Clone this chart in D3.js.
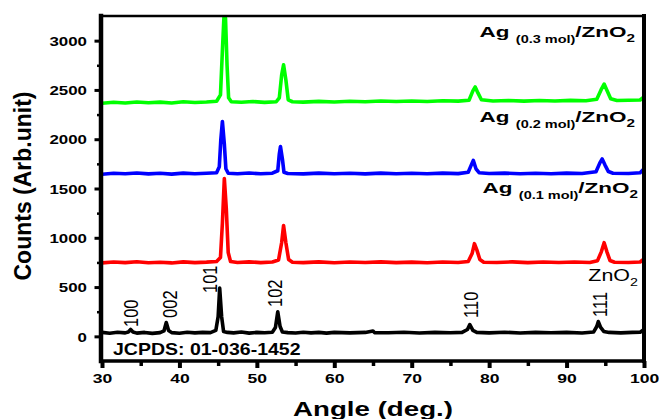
<!DOCTYPE html>
<html>
<head>
<meta charset="utf-8">
<script src="https://cdn.jsdelivr.net/npm/d3@7"></script>
<style>
  html, body { margin: 0; padding: 0; background: #fff; }
  svg { display: block; font-family: "Liberation Sans", Arial, sans-serif; }
  .trace { fill: none; stroke-width: 3.6; stroke-linejoin: round; stroke-linecap: round; }
</style>
</head>
<body>
<div id="chart"></div>
<script>
const ctx = {
    W: 659,
    H: 419,
    LEFT: 102,
    RIGHT: 644,
    TOP: 16,
    BOTTOM: 361,
};

// x axis ticks (2theta, deg) and y axis ticks (counts)
const xTicks = [30, 40, 50, 60, 70, 80, 90, 100];
const xMinorTicks = [35, 45, 55, 65, 75, 85, 95];
const yTicks = [0, 500, 1000, 1500, 2000, 2500, 3000];
const yMinorTicks = [250, 750, 1250, 1750, 2250, 2750];

// XRD patterns, [angle, counts]
const znO2 = [[30,40],[31,32],[32,42],[33,35],[33.4,45],[33.7,70],[34,45],[34.5,33],[35.5,40],[36.5,30],[37.5,38],
    [38,55],[38.3,140],[38.6,60],[39,38],[40,32],[41,42],[42,35],[43,40],[44,38],[44.7,60],[45.0,200],[45.2,490],
    [45.45,200],[45.7,50],[46.2,40],[47,35],[48,44],[49,33],[50,40],[51,36],[52,42],[52.4,90],[52.7,250],[53,100],
    [53.3,45],[54,38],[55,34],[56,42],[57,35],[58,40],[59,33],[60,40],[62,35],[64,40],[65,55],[65.2,38],[67,36],
    [69,42],[71,34],[73,40],[75,36],[76.5,40],[77.2,70],[77.5,120],[77.9,60],[78.4,40],[80,35],[82,42],[84,34],
    [86,40],[88,36],[90,40],[92,34],[93.5,45],[93.9,100],[94.1,150],[94.4,90],[94.8,50],[95.5,40],[97,35],
    [98.5,40],[99.5,42],[100,70]];

const ag01 = [[30,745],[31.5,755],[33,748],[34.5,757],[36,746],[37.5,752],[39,745],[40.5,756],[42,748],[43.5,753],
    [44.8,760],[45.3,800],[45.55,1150],[45.8,1600],[46.05,1300],[46.3,850],[46.6,760],[47.5,750],[49,756],
    [50.5,748],[52,754],[52.8,775],[53.2,950],[53.45,1125],[53.75,950],[54.1,780],[54.6,752],[56,748],[58,756],
    [60,747],[62,754],[64,749],[66,756],[68,748],[70,753],[72,747],[74,755],[76,749],[77.3,760],[77.8,840],
    [78.1,940],[78.4,880],[78.8,780],[79.3,752],[81,750],[83,756],[85,748],[87,754],[89,749],[91,755],[93,750],
    [94,768],[94.5,860],[94.85,950],[95.2,860],[95.6,770],[96.2,752],[98,750],[99.5,754],[100,785]];

const ag02 = [[30,1645],[31.5,1655],[33,1650],[34.5,1658],[36,1648],[37.5,1654],[39,1646],[40.5,1656],[42,1650],
    [43.5,1655],[44.8,1660],[45.15,1720],[45.35,2000],[45.55,2180],[45.8,1950],[46.0,1700],[46.3,1655],[47.5,1650],
    [49,1657],[50.5,1649],[52,1655],[52.7,1680],[52.9,1850],[53.05,1925],[53.3,1800],[53.5,1665],[54,1652],
    [56,1648],[58,1656],[60,1650],[62,1655],[64,1648],[66,1656],[68,1650],[70,1655],[72,1649],[74,1656],
    [76,1651],[77.3,1665],[77.7,1740],[77.95,1785],[78.3,1700],[78.7,1660],[80,1652],[82,1656],[84,1650],
    [86,1655],[88,1649],[90,1656],[92,1652],[93.8,1670],[94.3,1760],[94.6,1800],[94.95,1740],[95.4,1672],
    [96,1655],[98,1652],[99.5,1660],[100,1700]];

const ag03 = [[30,2365],[31.5,2375],[33,2368],[34.5,2378],[36,2370],[37.5,2376],[39,2368],[40.5,2380],[42,2372],
    [43.5,2377],[44.8,2385],[45.3,2450],[45.55,2900],[45.75,3240],[45.95,3230],[46.15,2750],[46.35,2420],
    [46.7,2380],[48,2375],[49.5,2382],[51,2374],[52.5,2380],[52.9,2420],[53.2,2650],[53.45,2755],[53.75,2600],
    [54.05,2400],[54.6,2380],[56,2376],[58,2384],[60,2378],[62,2385],[64,2380],[66,2388],[68,2382],[70,2388],
    [72,2383],[74,2390],[76,2386],[77.4,2395],[77.9,2490],[78.2,2530],[78.55,2470],[79,2400],[80.5,2388],
    [82.5,2392],[84.5,2386],[86.5,2393],[88.5,2388],[90.5,2394],[92.5,2390],[93.9,2405],[94.45,2500],
    [94.85,2560],[95.25,2490],[95.7,2410],[96.5,2392],[98,2395],[99.5,2398],[100,2430]];

const seriesData = [znO2, ag01, ag02, ag03];
const seriesColors = ["#000000", "#ff0000", "#0000ff", "#00ff00"];

// hkl reflections of ZnO2 (JCPDS 01-036-1452): label, angle, count where label starts
const hklLabels = ["100", "002", "101", "102", "110", "111"];
const hklAngles = [33.75, 38.8, 43.95, 52.35, 77.65, 94.3];
const hklCounts = [95, 187, 440, 298, 187, 197];

// sample labels: mol fraction text, count of the label baseline
const sampleMol = ["(0.3 mol)", "(0.2 mol)", "(0.1 mol)"];
const sampleCounts = [3040, 2170, 1450];

function stretched(sel, x, y, sx){
    sel.attr("transform", "translate(" + x + "," + y + ") scale(" + sx + ",1)");
}

function makeChart(){
    let svg = d3.select("#chart").append("svg")
                .attr("width", ctx.W)
                .attr("height", ctx.H);

    ctx.x = d3.scaleLinear().domain([30, 100]).range([ctx.LEFT, ctx.RIGHT]);
    ctx.y = d3.scaleLinear().domain([-250, 3250]).range([ctx.BOTTOM, ctx.TOP]);

    svg.append("clipPath").attr("id", "plotClip")
       .append("rect")
       .attr("x", ctx.LEFT).attr("y", ctx.TOP)
       .attr("width", ctx.RIGHT - ctx.LEFT).attr("height", ctx.BOTTOM - ctx.TOP);

    // traces
    let line = d3.line()
                 .x(d => ctx.x(d[0]))
                 .y(d => ctx.y(d[1]));
    svg.append("g")
       .attr("clip-path", "url(#plotClip)")
       .selectAll("path")
       .data(seriesData)
       .enter()
       .append("path")
       .attr("class", "trace")
       .attr("stroke", (d, i) => seriesColors[i])
       .attr("d", line);

    // x axis ticks
    let xAxis = svg.append("g")
                   .attr("transform", "translate(0," + ctx.BOTTOM + ")")
                   .call(d3.axisBottom(ctx.x).tickValues(xTicks).tickSize(7).tickPadding(0));
    xAxis.select(".domain").remove();
    xAxis.selectAll("line").attr("stroke", "#000").attr("stroke-width", 4);
    xAxis.selectAll("text")
         .attr("y", null).attr("dy", null)
         .attr("fill", "#000")
         .style("font-size", "13.5px").style("font-weight", "bold")
         .each(function(){ stretched(d3.select(this), 0, 22, 1.3); });

    let xMinor = svg.append("g")
                    .attr("transform", "translate(0," + ctx.BOTTOM + ")")
                    .call(d3.axisBottom(ctx.x).tickValues(xMinorTicks).tickSize(5).tickFormat(""));
    xMinor.select(".domain").remove();
    xMinor.selectAll("line").attr("stroke", "#000").attr("stroke-width", 3.5);

    // y axis ticks
    let yAxis = svg.append("g")
                   .attr("transform", "translate(" + (ctx.LEFT - 1) + ",0)")
                   .call(d3.axisLeft(ctx.y).tickValues(yTicks).tickFormat(d3.format("d")).tickSize(6.5));
    yAxis.select(".domain").remove();
    yAxis.selectAll("line").attr("stroke", "#000").attr("stroke-width", 3);
    yAxis.selectAll("text")
         .attr("x", null).attr("dy", "0.36em")
         .attr("fill", "#000")
         .style("font-size", "13px").style("font-weight", "bold")
         .each(function(){ stretched(d3.select(this), -14, 0, 1.3); });

    let yMinor = svg.append("g")
                    .attr("transform", "translate(" + (ctx.LEFT - 1) + ",0)")
                    .call(d3.axisLeft(ctx.y).tickValues(yMinorTicks).tickSize(4).tickFormat(""));
    yMinor.select(".domain").remove();
    yMinor.selectAll("line").attr("stroke", "#000").attr("stroke-width", 2.5);

    // frame
    let frame = svg.append("g").attr("stroke", "#000").attr("stroke-linecap", "square");
    frame.append("line").attr("x1", ctx.LEFT - 1).attr("x2", ctx.LEFT - 1)
         .attr("y1", ctx.TOP).attr("y2", ctx.BOTTOM).attr("stroke-width", 4.5);
    frame.append("line").attr("x1", ctx.RIGHT).attr("x2", ctx.RIGHT)
         .attr("y1", ctx.TOP).attr("y2", ctx.BOTTOM).attr("stroke-width", 4);
    frame.append("line").attr("x1", ctx.LEFT - 1).attr("x2", ctx.RIGHT)
         .attr("y1", ctx.TOP).attr("y2", ctx.TOP).attr("stroke-width", 2.5);
    frame.append("line").attr("x1", ctx.LEFT - 1).attr("x2", ctx.RIGHT)
         .attr("y1", ctx.BOTTOM).attr("y2", ctx.BOTTOM).attr("stroke-width", 3.5);

    // axis titles
    svg.append("text")
       .attr("text-anchor", "middle")
       .style("font-size", "19.5px").style("font-weight", "bold")
       .text("Angle (deg.)")
       .call(stretched, 373, 416, 1.42);

    svg.append("text")
       .attr("text-anchor", "middle")
       .attr("transform", "translate(31,186) rotate(-90)")
       .style("font-size", "23px").style("font-weight", "bold")
       .text("Counts (Arb.unit)");

    // sample labels
    let labelRight = [635, 635, 638];
    sampleMol.forEach(function(mol, i){
        let t = svg.append("text")
                   .attr("text-anchor", "end")
                   .style("font-weight", "bold")
                   .call(stretched, labelRight[i], ctx.y(sampleCounts[i]), 1.45);
        t.append("tspan").style("font-size", "15.5px").text("Ag ");
        t.append("tspan").style("font-size", "10px").attr("dy", 6).text(mol);
        t.append("tspan").style("font-size", "15.5px").attr("dy", -6).text("/ZnO");
        t.append("tspan").style("font-size", "10.5px").attr("dy", 5).text("2");
    });

    let zn = svg.append("text")
                .attr("text-anchor", "end")
                .call(stretched, 638, 281, 1.3);
    zn.append("tspan").style("font-size", "16.5px").text("ZnO");
    zn.append("tspan").style("font-size", "11px").attr("dy", 5).text("2");

    // hkl labels, rotated
    svg.append("g")
       .selectAll("text")
       .data(hklLabels)
       .enter()
       .append("text")
       .style("font-size", "16.5px")
       .attr("transform", (d, i) => "translate(" + (ctx.x(hklAngles[i]) + 7) + "," + ctx.y(hklCounts[i])
                                   + ") scale(1.18,1) rotate(-90)")
       .text(d => d);

    // reference card
    svg.append("text")
       .style("font-size", "16px").style("font-weight", "bold")
       .text("JCPDS: 01-036-1452")
       .call(stretched, 113, 355, 1.22);
}

makeChart();
</script>
</body>
</html>
